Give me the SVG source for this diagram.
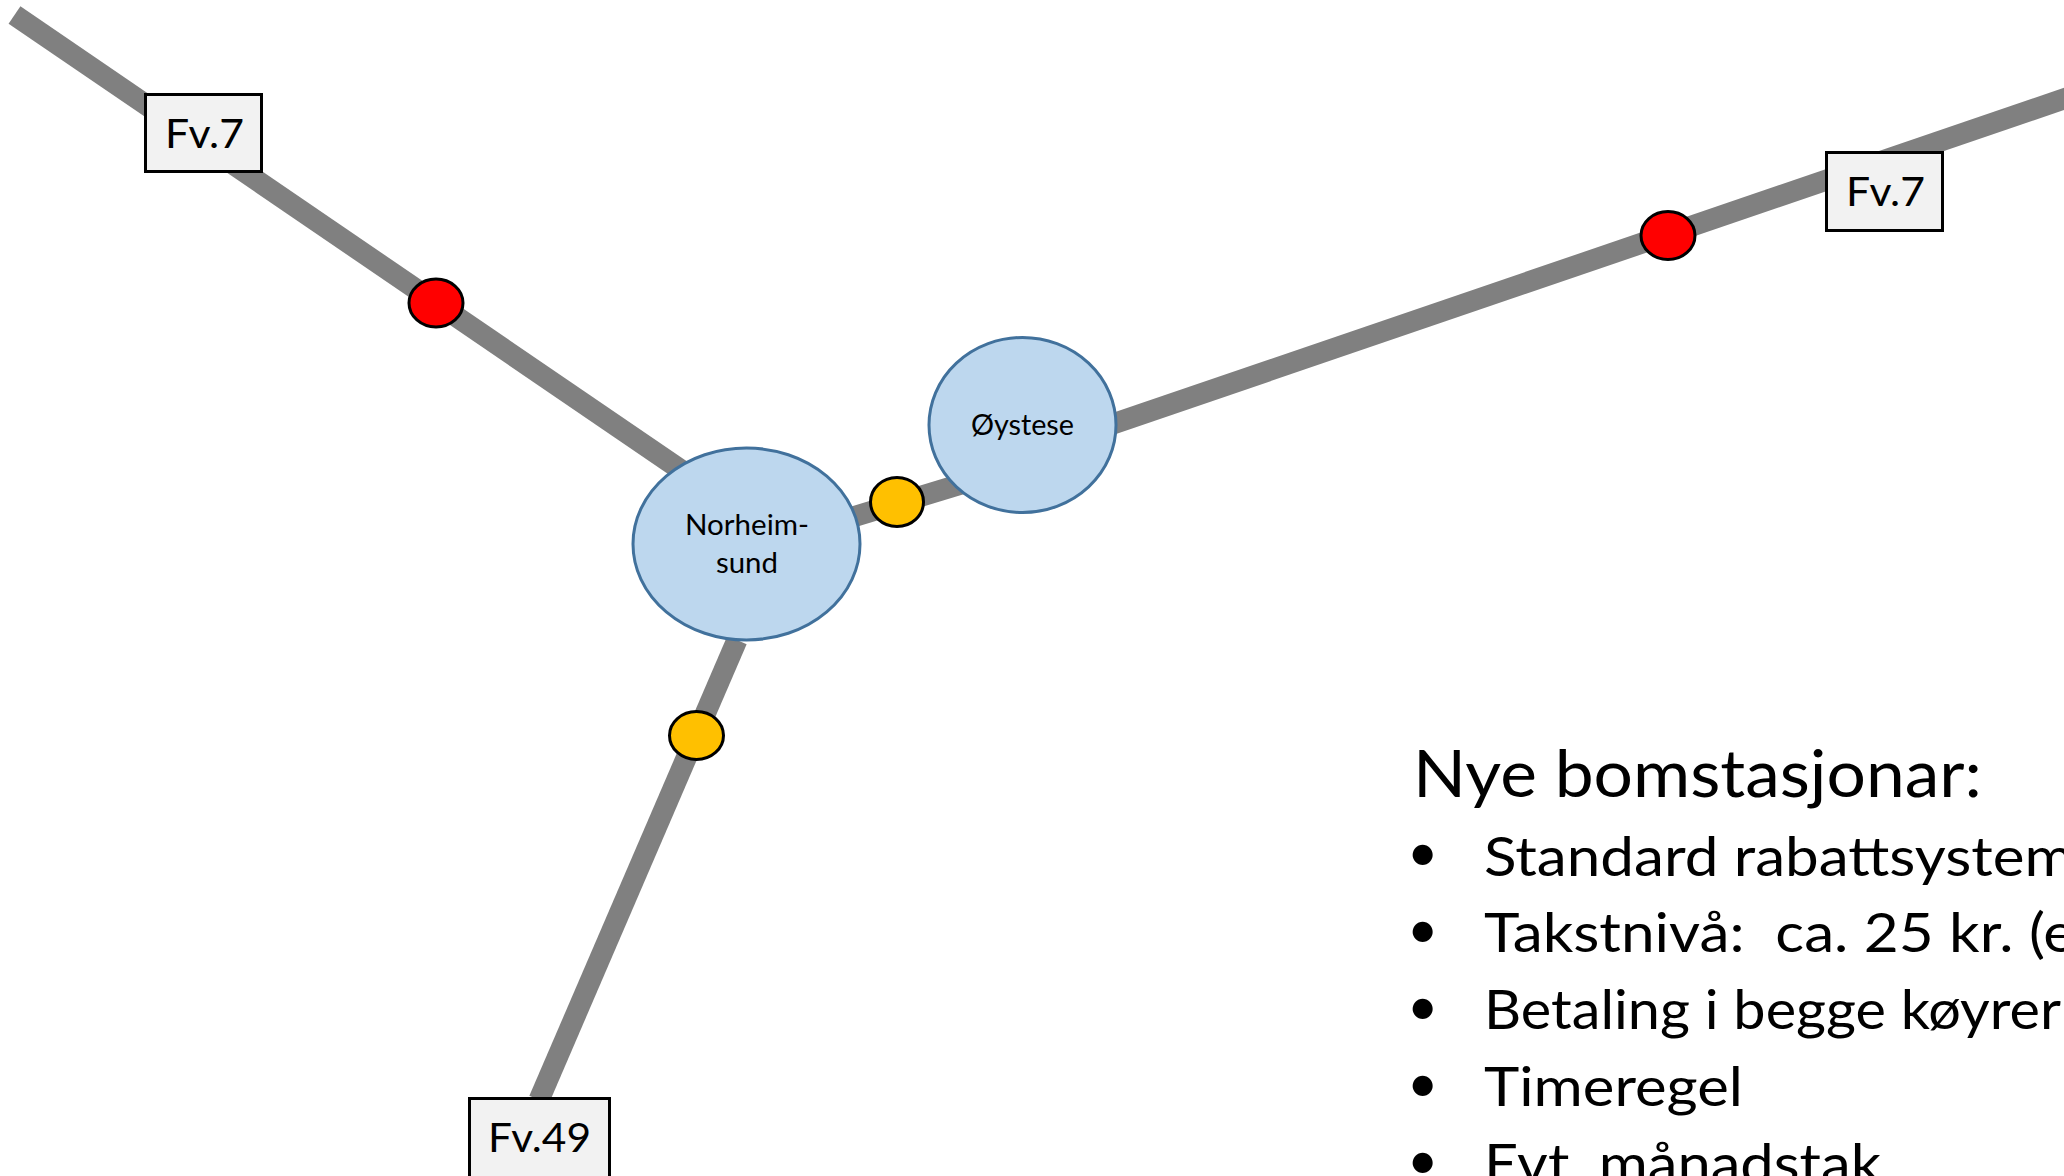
<svg xmlns="http://www.w3.org/2000/svg" width="2064" height="1176" viewBox="0 0 2064 1176">
<style>
text{font-family:"Lato","Carlito","Open Sans",sans-serif;fill:#000}
.road{stroke:#808080;stroke-width:21;fill:none}
.town{fill:#BDD7EE;stroke:#41719C;stroke-width:3}
.sign{fill:#F2F2F2;stroke:#000;stroke-width:3}
.red{fill:#FF0000;stroke:#000;stroke-width:3}
.amber{fill:#FFC000;stroke:#000;stroke-width:3}
.lbl{font-size:40px}
.town-t{font-size:28px}
.li{font-size:54px}
</style>
<rect width="2064" height="1176" fill="#fff"/>
<g id="connectors">
<line class="road" x1="14.5" y1="15" x2="700" y2="483"/>
<line class="road" x1="2090" y1="90" x2="1060" y2="442"/>
<line class="road" x1="1040" y1="460" x2="820" y2="527"/>
<line class="road" x1="539" y1="1100" x2="737" y2="640"/>
</g>
<g id="fv7-west"><rect class="sign" x="145.500" y="94.500" width="116" height="77"/><text class="lbl" x="165" y="148" textLength="79" lengthAdjust="spacingAndGlyphs">Fv.7</text></g>
<g id="fv7-east"><rect class="sign" x="1826.500" y="152.500" width="116" height="78"/><text class="lbl" x="1846" y="206" textLength="79" lengthAdjust="spacingAndGlyphs">Fv.7</text></g>
<g id="fv49"><rect class="sign" x="469.500" y="1098.500" width="140" height="80"/><text class="lbl" x="488" y="1152" textLength="103" lengthAdjust="spacingAndGlyphs">Fv.49</text></g>
<g id="norheimsund"><ellipse class="town" cx="746.500" cy="544" rx="113.500" ry="96"/></g>
<g id="oystese"><ellipse class="town" cx="1022.500" cy="425" rx="93.500" ry="87.500"/><text class="town-t" x="971" y="435" textLength="103" lengthAdjust="spacingAndGlyphs">Øystese</text></g>
<g id="norheimsund-label"><text class="town-t" x="685" y="535" textLength="124" lengthAdjust="spacingAndGlyphs">Norheim-</text><text class="town-t" x="716" y="573" textLength="62" lengthAdjust="spacingAndGlyphs">sund</text></g>
<g id="toll-red-1"><ellipse class="red" cx="436" cy="303" rx="27" ry="24"/></g>
<g id="toll-red-2"><ellipse class="red" cx="1668" cy="235.500" rx="27" ry="24"/></g>
<g id="toll-amber-1"><ellipse class="amber" cx="897" cy="502" rx="26.500" ry="24.500"/></g>
<g id="toll-amber-2"><ellipse class="amber" cx="696.500" cy="735.500" rx="27" ry="24"/></g>
<g id="text-panel">
<text x="1413" y="797" font-size="65" textLength="569" lengthAdjust="spacingAndGlyphs">Nye bomstasjonar:</text>
<text class="li" x="1407" y="871">•</text><text class="li" x="1484" y="876" textLength="590" lengthAdjust="spacingAndGlyphs">Standard rabattsystem</text>
<text class="li" x="1407" y="948">•</text><text class="li" x="1484" y="952" xml:space="preserve" textLength="591" lengthAdjust="spacingAndGlyphs">Takstnivå:  ca. 25 kr. (e</text>
<text class="li" x="1407" y="1025">•</text><text class="li" x="1484" y="1029" textLength="577" lengthAdjust="spacingAndGlyphs">Betaling i begge køyrer</text>
<text class="li" x="1407" y="1102">•</text><text class="li" x="1484" y="1106" textLength="259" lengthAdjust="spacingAndGlyphs">Timeregel</text>
<text class="li" x="1407" y="1179">•</text><text class="li" x="1484" y="1183" textLength="397" lengthAdjust="spacingAndGlyphs">Evt. månadstak</text>
</g>
</svg>
